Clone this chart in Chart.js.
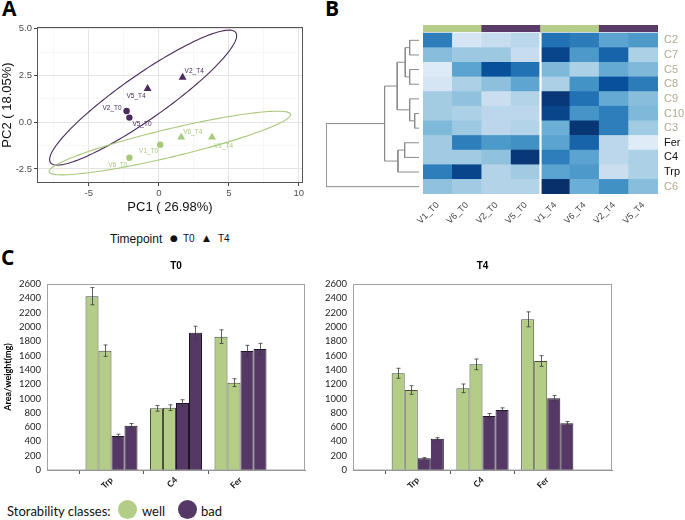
<!DOCTYPE html>
<html><head><meta charset="utf-8">
<script src="https://cdn.jsdelivr.net/npm/chart.js@4.4.1/dist/chart.umd.min.js"></script>
<style>
html,body{margin:0;padding:0;background:#fff}
body{width:685px;height:520px;position:relative;overflow:hidden}
canvas{position:absolute;display:block}
.pl{position:absolute;font-family:"Open Sans",sans-serif;font-weight:700;font-size:21px;line-height:21px;color:#000}
.txt{position:absolute;white-space:nowrap;line-height:1;color:#111}
.dot{position:absolute;border-radius:50%}
</style></head><body>
<div class="pl" style="left:2px;top:-2px">A</div>
<div class="pl" style="left:325px;top:-2px">B</div>
<div class="pl" style="left:1px;top:247px">C</div>

<canvas id="pca" width="320" height="222" style="left:0;top:0"></canvas>
<div class="txt" style="left:110px;top:232px;font:12px 'Liberation Sans'">Timepoint</div>
<div class="txt" style="left:170px;top:233px;font:9px 'DejaVu Sans'">●</div>
<div class="txt" style="left:183px;top:233px;font:10px 'Liberation Sans'">T0</div>
<div class="txt" style="left:203px;top:233px;font:9px 'DejaVu Sans'">▲</div>
<div class="txt" style="left:218px;top:233px;font:10px 'Liberation Sans'">T4</div>

<canvas id="dendro" width="103" height="280" style="left:320px;top:0"></canvas>
<canvas id="heat" width="345" height="280" style="left:340px;top:0"></canvas>

<canvas id="barT0" width="320" height="240" style="left:0;top:260px"></canvas>
<canvas id="barT4" width="320" height="240" style="left:320px;top:260px"></canvas>

<div class="txt" style="left:7px;top:503px;font:13px Lato">Storability classes:</div>
<div class="dot" style="left:118px;top:500px;width:19px;height:19px;background:#b3cd86"></div>
<div class="txt" style="left:142px;top:503px;font:13px Lato">well</div>
<div class="dot" style="left:178px;top:500px;width:19px;height:19px;background:#553865"></div>
<div class="txt" style="left:201px;top:503px;font:13px Lato">bad</div>

<script>
// ---------------- Panel A data (PCA) ----------------
const pcaNames = ['V1_T0','V6_T0','V2_T0','V5_T0','V1_T4','V6_T4','V2_T4','V5_T4'];
const pc1      = [0.1, -2.1, -2.3, -2.1, 3.8, 1.6, 1.7, -0.8];
const pc2      = [-1.2, -1.9, 0.6, 0.25, -0.8, -0.8, 2.4, 1.8];
const pcaClass = ['well','well','bad','bad','well','well','bad','bad'];
const pcaTime  = ['T0','T0','T0','T0','T4','T4','T4','T4'];
// confidence ellipses (center, major & minor half-axis vectors, data units)
const ellClass = ['bad','well'];
const ellCX = [-1.12, 0.79];
const ellCY = [1.32, -1.11];
const ellMajX = [6.62, 8.62];
const ellMajY = [3.48, 1.54];
const ellMinX = [0.90, 0.23];
const ellMinY = [-0.97, -0.73];
const pcaXTicks = [-5, 0, 5, 10];
const pcaYTicks = [-2.5, 0, 2.5, 5];

// ---------------- Panel B data (heatmap) ----------------
const heatCols = ['V1_T0','V6_T0','V2_T0','V5_T0','V1_T4','V6_T4','V2_T4','V5_T4'];
const colClass = ['well','well','bad','bad','well','well','bad','bad'];
const heatRows = ['C2','C7','C5','C8','C9','C10','C3','Fer','C4','Trp','C6'];
const rowC2  = [0.70, 0.17, 0.24, 0.29, 0.75, 0.71, 0.55, 0.59];
const rowC7  = [0.43, 0.38, 0.38, 0.24, 0.92, 0.59, 0.80, 0.33];
const rowC5  = [0.13, 0.55, 0.88, 0.75, 0.45, 0.33, 0.52, 0.45];
const rowC8  = [0.17, 0.33, 0.42, 0.54, 0.33, 0.62, 0.88, 0.71];
const rowC9  = [0.36, 0.41, 0.23, 0.31, 0.97, 0.75, 0.52, 0.43];
const rowC10 = [0.36, 0.33, 0.28, 0.28, 0.92, 0.61, 0.70, 0.45];
const rowC3  = [0.45, 0.38, 0.28, 0.31, 0.50, 0.98, 0.70, 0.37];
const rowFer = [0.37, 0.70, 0.59, 0.63, 0.55, 0.80, 0.28, 0.12];
const rowC4  = [0.37, 0.37, 0.41, 0.97, 0.70, 0.55, 0.28, 0.33];
const rowTrp = [0.70, 0.92, 0.31, 0.37, 0.55, 0.59, 0.23, 0.33];
const rowC6  = [0.41, 0.37, 0.31, 0.31, 1.00, 0.50, 0.63, 0.43];
const heatValues = [rowC2,rowC7,rowC5,rowC8,rowC9,rowC10,rowC3,rowFer,rowC4,rowTrp,rowC6];
const darkLabelRows = ['Fer','C4','Trp'];
// dendrogram merges (left node, right node, merge height)
const dendroLeft   = ['C2','C5','m1','C10','C9','m3','Fer','m7','m6','m9'];
const dendroRight  = ['C7','C8','m2','C3','m4','m5','C4','Trp','m8','C6'];
const dendroHeight = [9.3, 9.3, 13.7, 4.3, 9.3, 21.7, 14.3, 21.0, 34.3, 92.7];

// ---------------- Panel C data (bars) ----------------
const barCats = ['Trp','C4','Fer'];
const t0Well1 = [2430, 862, 1864];
const t0Well2 = [1668, 871, 1221];
const t0Bad1  = [475, 937, 1663];
const t0Bad2  = [620, 1920, 1691];
const t0Well1Err = [120, 40, 95];
const t0Well2Err = [80, 40, 55];
const t0Bad1Err  = [25, 45, 80];
const t0Bad2Err  = [30, 90, 80];
const t4Well1 = [1352, 1142, 2106];
const t4Well2 = [1118, 1477, 1524];
const t4Bad1  = [163, 755, 1002];
const t4Bad2  = [437, 839, 653];
const t4Well1Err = [70, 60, 105];
const t4Well2Err = [60, 75, 75];
const t4Bad1Err  = [10, 35, 40];
const t4Bad2Err  = [15, 30, 25];

// ---------------- styles ----------------
const PCA_PURPLE = '#4b2a5c', PCA_GREEN = '#a8c97c';
const ANN_GREEN = '#b5cc8a', ANN_PURPLE = '#5a3b68';
const BAR_GREEN = '#b3cd86', BAR_PURPLE = '#553865';
const BLUES = ['#f7fbff','#deebf7','#c6dbef','#9ecae1','#6baed6','#4292c6','#2171b5','#08519c','#08306b'];
function hex2rgb(h){return [parseInt(h.slice(1,3),16),parseInt(h.slice(3,5),16),parseInt(h.slice(5,7),16)];}
function blues(v){
  const t=Math.max(0,Math.min(1,v))*8; const i=Math.min(7,Math.floor(t)); const f=t-i;
  const a=hex2rgb(BLUES[i]), b=hex2rgb(BLUES[i+1]);
  return 'rgb('+a.map((c,k)=>Math.round(c+(b[k]-c)*f)).join(',')+')';
}
const isMul=(v,m)=>Math.abs(v/m-Math.round(v/m))<1e-6;
Chart.defaults.animation=false;

// ================= Panel A =================
const pcaLabelPos = {
  V2_T4:[2,-6,'left'], V5_T4:[-2,8,'right'], V2_T0:[-5,-3,'right'], V5_T0:[3,7,'left'],
  V6_T4:[2,-5,'left'], V1_T4:[2,9,'left'], V1_T0:[-2,7,'right'], V6_T0:[-2,7,'right']
};
const pcaPlugin = {
  id:'pcaExtras',
  beforeDatasetsDraw(chart){
    const {ctx, scales:{x,y}} = chart;
    ellClass.forEach((cls,k)=>{
      ctx.save(); ctx.beginPath();
      for(let i=0;i<=160;i++){
        const t=i/160*2*Math.PI;
        const vx=ellCX[k]+ellMajX[k]*Math.cos(t)+ellMinX[k]*Math.sin(t);
        const vy=ellCY[k]+ellMajY[k]*Math.cos(t)+ellMinY[k]*Math.sin(t);
        const X=x.getPixelForValue(vx), Y=y.getPixelForValue(vy);
        if(i) ctx.lineTo(X,Y); else ctx.moveTo(X,Y);
      }
      ctx.closePath(); ctx.lineWidth=1.1; ctx.strokeStyle = cls==='bad'?PCA_PURPLE:PCA_GREEN; ctx.stroke(); ctx.restore();
    });
  },
  afterDatasetsDraw(chart){
    const {ctx, chartArea:a} = chart;
    ctx.save();
    ctx.font='6.5px "Liberation Sans"'; ctx.textBaseline='middle';
    chart.data.datasets.forEach((ds,k)=>{
      const meta=chart.getDatasetMeta(k);
      meta.data.forEach((pt,i)=>{
        const p=ds.data[i]; const o=pcaLabelPos[p.name]||[3,0,'left'];
        ctx.fillStyle = p.cls==='bad'?PCA_PURPLE:PCA_GREEN; ctx.textAlign=o[2];
        ctx.fillText(p.name, pt.x+o[0], pt.y+o[1]);
      });
    });
    ctx.strokeStyle='#555'; ctx.lineWidth=1;
    ctx.strokeRect(Math.round(a.left)+0.5, Math.round(a.top)+0.5, Math.round(a.width)-1, Math.round(a.height)-1);
    ctx.restore();
  }
};
const pcaGroups=[['bad','T0'],['bad','T4'],['well','T0'],['well','T4']];
const gridOpts=(major)=>({
  color: c=> major(c.tick.value)?'#e4e4e4':'#f1f1f1',
  lineWidth: c=> major(c.tick.value)?1:0.6,
  tickColor: c=> major(c.tick.value)?'#444':'rgba(0,0,0,0)',
  tickLength:3
});
new Chart(document.getElementById('pca'),{
  type:'scatter',
  data:{datasets: pcaGroups.map(([cls,tm])=>{
    const col = cls==='bad'?PCA_PURPLE:PCA_GREEN;
    return {
      label:cls+' '+tm,
      data: pcaNames.map((n,i)=>({x:pc1[i],y:pc2[i],name:n,cls:pcaClass[i],time:pcaTime[i]})).filter(p=>p.cls===cls&&p.time===tm),
      pointStyle: tm==='T0'?'circle':'triangle',
      pointRadius: tm==='T0'?3.2:4.6,
      backgroundColor:col, borderColor:col, borderWidth:0
    };
  })},
  options:{
    responsive:false, events:[],
    layout:{padding:{top:27,right:17,left:0,bottom:0}},
    plugins:{legend:{display:false},tooltip:{enabled:false}},
    scales:{
      x:{type:'linear',min:-8.7,max:10.3,
        afterFit:s=>{s.height=39;},
        border:{display:false},
        grid:gridOpts(v=>isMul(v,5)),
        ticks:{stepSize:2.5,includeBounds:false,autoSkip:false,maxRotation:0,
          callback:v=>pcaXTicks.some(t=>Math.abs(t-v)<1e-6)?String(v):'',
          font:{family:'Liberation Sans',size:9.5},color:'#4d4d4d',padding:2},
        title:{display:true,text:'PC1 ( 26.98%)',font:{family:'Liberation Sans',size:13},color:'#111',padding:{top:0,bottom:7}}
      },
      y:{type:'linear',min:-3.25,max:5.1,
        afterFit:s=>{s.width=37;},
        border:{display:false},
        grid:gridOpts(v=>isMul(v,2.5)),
        ticks:{stepSize:1.25,includeBounds:false,autoSkip:false,
          callback:v=>pcaYTicks.some(t=>Math.abs(t-v)<1e-6)?v.toFixed(1):'',
          font:{family:'Liberation Sans',size:9.5},color:'#4d4d4d',padding:2},
        title:{display:true,text:'PC2 ( 18.05%)',font:{family:'Liberation Sans',size:13},color:'#111',padding:{top:0,bottom:0}}
      }
    }
  },
  plugins:[pcaPlugin]
});

// ================= Panel B: heatmap =================
const nRows=heatRows.length;
const GAP=0.09, ANN=0.46;
const heatDatasets = heatRows.map((r,i)=>({
  label:r, data:heatCols.map(()=>1), backgroundColor:heatValues[i].map(blues),
  borderWidth:0, stack:'s', barPercentage:1, categoryPercentage:1
})).reverse();
heatDatasets.push({label:'gap',data:heatCols.map(()=>GAP),backgroundColor:'rgba(0,0,0,0)',borderWidth:0,stack:'s',barPercentage:1,categoryPercentage:1});
heatDatasets.push({label:'class',data:heatCols.map(()=>ANN),backgroundColor:colClass.map(c=>c==='well'?ANN_GREEN:ANN_PURPLE),borderWidth:0,stack:'s',barPercentage:1,categoryPercentage:1});
const heatPlugin={
  id:'heatSplit',
  afterDatasetsDraw(chart){
    const {ctx,scales:{x,y}}=chart;
    const xs=(x.getPixelForValue(3)+x.getPixelForValue(4))/2;
    ctx.save(); ctx.strokeStyle='#ffffff'; ctx.lineWidth=2.2;
    ctx.beginPath(); ctx.moveTo(xs,y.getPixelForValue(0)); ctx.lineTo(xs,y.getPixelForValue(nRows)); ctx.stroke();
    ctx.restore();
  }
};
new Chart(document.getElementById('heat'),{
  type:'bar',
  data:{labels:heatCols,datasets:heatDatasets},
  options:{
    responsive:false, events:[],
    layout:{padding:{left:83,top:25,right:0,bottom:0}},
    plugins:{legend:{display:false},tooltip:{enabled:false}},
    scales:{
      x:{stacked:true, afterFit:s=>{s.height=86;}, grid:{display:false,drawTicks:false}, border:{display:false},
        ticks:{autoSkip:false,minRotation:45,maxRotation:45,font:{family:'Liberation Sans',size:9},color:'#444',padding:6}},
      y:{stacked:true, position:'right', min:0, max:nRows+GAP+ANN, afterFit:s=>{s.width=27;},
        grid:{display:false,drawTicks:false}, border:{display:false},
        afterBuildTicks:ax=>{ax.ticks=heatRows.map((r,i)=>({value:nRows-1-i+0.5}));},
        ticks:{autoSkip:false, callback:(v,i)=>heatRows[i], padding:6,
          font:{family:'Liberation Sans',size:11},
          color:c=>darkLabelRows.includes(heatRows[c.index])?'#111':'#b4a890'}}
    }
  },
  plugins:[heatPlugin]
});

// ================= Panel B: dendrogram =================
const nodeY={}, nodeH={};
heatRows.forEach((r,i)=>{nodeY[r]=i+0.5; nodeH[r]=0;});
const dendroDatasets=dendroLeft.map((a,k)=>{
  const b=dendroRight[k], h=dendroHeight[k], id='m'+(k+1);
  nodeY[id]=(nodeY[a]+nodeY[b])/2; nodeH[id]=h;
  return {data:[{x:nodeH[a],y:nodeY[a]},{x:h,y:nodeY[a]},{x:h,y:nodeY[b]},{x:nodeH[b],y:nodeY[b]}],
    showLine:true, pointRadius:0, borderColor:'#8a8a8a', borderWidth:1, tension:0};
});
new Chart(document.getElementById('dendro'),{
  type:'scatter',
  data:{datasets:dendroDatasets},
  options:{
    responsive:false, events:[],
    layout:{padding:{left:6,right:4,top:33,bottom:86}},
    plugins:{legend:{display:false},tooltip:{enabled:false}},
    scales:{
      x:{type:'linear',reverse:true,min:0,max:dendroHeight[dendroHeight.length-1],display:false},
      y:{type:'linear',reverse:true,min:0,max:nRows,display:false}
    }
  }
});

// ================= Panel C: bars =================
const errPlugin={
  id:'errBars',
  afterDatasetsDraw(chart){
    const {ctx,scales:{y}}=chart;
    ctx.save(); ctx.strokeStyle='#3a3a3a'; ctx.lineWidth=0.8;
    chart.data.datasets.forEach((ds,k)=>{
      chart.getDatasetMeta(k).data.forEach((bar,i)=>{
        const v=ds.data[i], e=ds.errors[i]; if(v==null||e==null) return;
        const x=Math.round(bar.x)+0.5, y1=y.getPixelForValue(v+e), y2=y.getPixelForValue(v-e);
        ctx.beginPath(); ctx.moveTo(x,y1); ctx.lineTo(x,y2);
        ctx.moveTo(x-2,y1); ctx.lineTo(x+2,y1); ctx.moveTo(x-2,y2); ctx.lineTo(x+2,y2); ctx.stroke();
      });
    });
    const a=chart.chartArea;
    ctx.strokeStyle='#a3a3a3'; ctx.lineWidth=1;
    ctx.strokeRect(Math.round(a.left)+0.5,Math.round(a.top)+0.5,Math.round(a.width)-1,Math.round(a.height)-0.5);
    ctx.restore();
  }
};
function makeBar(id,title,sets,errs,yTitle,yWidth,padRight){
  new Chart(document.getElementById(id),{
    type:'bar',
    data:{labels:['',...barCats,''],
      datasets:sets.map((d,k)=>({data:[null,...d,null],errors:[null,...errs[k],null],
        backgroundColor:k<2?BAR_GREEN:BAR_PURPLE, borderColor:k<2?'#4a4f3c':'#22152a', borderWidth:1,
        barPercentage:1, categoryPercentage:0.806}))},
    options:{
      responsive:false, events:[],
      layout:{padding:{left:0,right:padRight,top:0,bottom:0}},
      plugins:{legend:{display:false},tooltip:{enabled:false},
        title:{display:true,text:title,fullSize:false,font:{family:'Liberation Sans',size:10,weight:'bold'},color:'#000',padding:{top:0,bottom:12}}},
      scales:{
        x:{offset:false, afterFit:s=>{s.height=30;},
          grid:{display:true,drawOnChartArea:false,tickLength:4,color:'#666',
            tickColor:c=>(c.index>0&&c.index<4)?'#555':'rgba(0,0,0,0)'},
          border:{display:true,color:'#8a8a8a'},
          ticks:{autoSkip:false,minRotation:45,maxRotation:45,font:{family:'Lato',size:8.5,weight:'bold'},color:'#111',padding:1}},
        y:{min:0,max:2600, afterFit:s=>{s.width=yWidth;},
          grid:{display:false,drawTicks:false}, border:{display:true,color:'#8a8a8a'},
          ticks:{stepSize:200,autoSkip:false,callback:v=>String(v),font:{family:'Lato',size:9.5},color:'#222',padding:6},
          title:{display:!!yTitle,text:yTitle||'',font:{family:'Lato',size:9,weight:'bold'},color:'#000',padding:{top:3,bottom:0}}}
      }
    },
    plugins:[errPlugin]
  });
}
makeBar('barT0','T0',[t0Well1,t0Well2,t0Bad1,t0Bad2],[t0Well1Err,t0Well2Err,t0Bad1Err,t0Bad2Err],'Area/weight(mg)',47,15);
makeBar('barT4','T4',[t4Well1,t4Well2,t4Bad1,t4Bad2],[t4Well1Err,t4Well2Err,t4Bad1Err,t4Bad2Err],null,33,28);
</script>
</body></html>
